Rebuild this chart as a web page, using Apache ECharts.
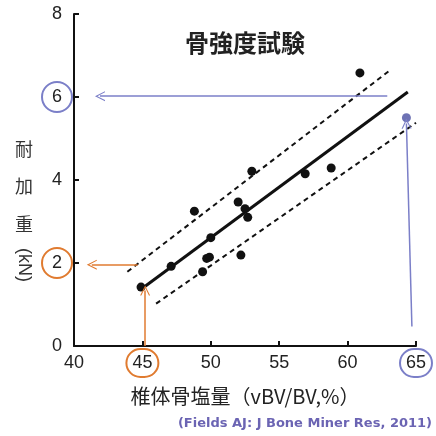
<!DOCTYPE html>
<html>
<head>
<meta charset="utf-8">
<script src="https://cdn.jsdelivr.net/npm/echarts@6/dist/echarts.min.js"></script>
<style>
html, body { margin: 0; padding: 0; background: #fff; }
#main { width: 436px; height: 436px; }
</style>
</head>
<body>
<div id="main"></div>
<script>
// 目盛り
var xTicks = [40, 45, 50, 55, 60, 65];
var yTicks = [0, 2, 4, 6, 8];
// 測定点 (椎体骨塩量 vs 耐加重)
var vbv = [44.9, 47.1, 48.8, 49.4, 49.7, 49.9, 50.0, 52.0, 52.2, 52.5, 52.7, 53.0, 56.9, 58.8, 60.9];
var load = [1.42, 1.92, 3.25, 1.79, 2.11, 2.14, 2.61, 3.47, 2.19, 3.31, 3.10, 4.21, 4.15, 4.29, 6.58];
// 回帰直線と信頼区間
var fitLine = [[45.2, 1.44], [64.4, 6.12]];
var upperBand = [[43.9, 1.79], [63.0, 6.62]];
var lowerBand = [[46.0, 1.02], [65.0, 5.38]];
// 予測点
var targetPoint = [[64.3, 5.5]];
// 矢印
var orangeUp = [[45.2, 0], [45.2, 1.34]];
var orangeLeft = [[44.65, 1.96], [41.3, 1.96]];
var blueUp = [[64.7, 0.47], [64.3, 5.36]];
var blueLeft = [[62.9, 6.02], [41.9, 6.02]];

var ORANGE = '#e07b30';
var BLUE = '#7b7fc8';
// 開いた矢じり (上向き、10x10 の箱)
var chevron = 'path://M0,7 L5,0 L10,7 L8.8,7 L5,1.7 L1.2,7 Z';

function pts(xs, ys) {
    var out = [];
    for (var i = 0; i < xs.length; i++) out.push([xs[i], ys[i]]);
    return out;
}

function arrow(seg) {
    return [{ coord: seg[0] }, { coord: seg[1] }];
}

var myChart = echarts.init(document.getElementById('main'));

var option = {
    animation: false,
    backgroundColor: '#fff',
    grid: { left: 74, right: 17, top: 14, bottom: 90 },
    xAxis: {
        type: 'value',
        min: 40, max: 65, interval: 5,
        name: '椎体骨塩量（vBV/BV,%）',
        nameLocation: 'middle',
        nameGap: 40,
        nameTextStyle: { fontFamily: 'Noto Sans CJK JP', fontSize: 20, color: '#222' },
        axisLine: { lineStyle: { color: '#111', width: 2 } },
        axisTick: { inside: true, length: 5, lineStyle: { color: '#111', width: 2 } },
        splitLine: { show: false },
        axisLabel: {
            margin: 3,
            formatter: function (v) {
                if (v === 45) return '{o|45}';
                if (v === 65) return '{b|65}';
                return '{n|' + v + '}';
            },
            rich: {
                n: { width: 32, height: 28, align: 'center', fontSize: 18, fontFamily: 'Liberation Sans', color: '#222' },
                o: { width: 32, height: 28, align: 'center', fontSize: 18, fontFamily: 'Liberation Sans', color: '#222',
                     borderColor: ORANGE, borderWidth: 2, borderRadius: 16 },
                b: { width: 32, height: 28, align: 'center', fontSize: 18, fontFamily: 'Liberation Sans', color: '#222',
                     borderColor: BLUE, borderWidth: 2, borderRadius: 16 }
            }
        }
    },
    yAxis: {
        type: 'value',
        min: 0, max: 8, interval: 2,
        axisLine: { show: true, lineStyle: { color: '#111', width: 2 } },
        axisTick: { show: true, inside: true, length: 5, lineStyle: { color: '#111', width: 2 } },
        splitLine: { show: false },
        axisLabel: {
            margin: 2,
            formatter: function (v) {
                if (v === 2) return '{o|2}';
                if (v === 6) return '{b|6}';
                return '{n|' + v + '}';
            },
            rich: {
                n: { width: 30, height: 30, align: 'center', fontSize: 18, fontFamily: 'Liberation Sans', color: '#222' },
                o: { width: 30, height: 30, align: 'center', fontSize: 18, fontFamily: 'Liberation Sans', color: '#222',
                     borderColor: ORANGE, borderWidth: 2, borderRadius: 16 },
                b: { width: 30, height: 30, align: 'center', fontSize: 18, fontFamily: 'Liberation Sans', color: '#222',
                     borderColor: BLUE, borderWidth: 2, borderRadius: 16 }
            }
        }
    },
    graphic: [
        { type: 'text', x: 245, y: 43,
          style: { text: '骨強度試験', x: 0, y: 0, align: 'center', verticalAlign: 'middle',
                   font: 'bold 24px "Noto Sans CJK JP"', fill: '#222' } },
        { type: 'text', x: 24, y: 130,
          style: { text: '耐\n加\n重', x: 0, y: 0, align: 'center', verticalAlign: 'top',
                   font: '18px "Noto Sans CJK JP"', lineHeight: 37.5, fill: '#333' } },
        { type: 'text', x: 24, y: 265, rotation: -Math.PI / 2,
          style: { text: '(kN)', x: 0, y: 0, align: 'center', verticalAlign: 'middle',
                   font: '18px "Liberation Sans"', fill: '#333' } },
        { type: 'text', x: 432, y: 424,
          style: { text: '(Fields AJ: J Bone Miner Res, 2011)', x: 0, y: 0, align: 'right', verticalAlign: 'middle',
                   font: 'bold 13px "DejaVu Sans"', fill: '#6b64b3' } }
    ],
    series: [
        {
            type: 'line', data: upperBand, showSymbol: false, silent: true,
            lineStyle: { color: '#111', width: 2, type: [5, 4] }
        },
        {
            type: 'line', data: lowerBand, showSymbol: false, silent: true,
            lineStyle: { color: '#111', width: 2, type: [5, 4] }
        },
        {
            type: 'line', data: fitLine, showSymbol: false, silent: true,
            lineStyle: { color: '#111', width: 3 }
        },
        {
            type: 'scatter', data: pts(vbv, load), symbolSize: 9,
            itemStyle: { color: '#111', opacity: 1 }
        },
        {
            type: 'scatter', data: targetPoint, symbolSize: 9,
            itemStyle: { color: '#6e72b4', opacity: 1 }
        },
        {
            type: 'line', data: [], silent: true,
            markLine: {
                silent: true,
                symbol: ['none', chevron],
                symbolSize: 10,
                label: { show: false },
                lineStyle: { color: ORANGE, width: 1.5, type: 'solid' },
                data: [arrow(orangeUp), arrow(orangeLeft)]
            }
        },
        {
            type: 'line', data: [], silent: true,
            markLine: {
                silent: true,
                symbol: ['none', chevron],
                symbolSize: 10,
                label: { show: false },
                lineStyle: { color: BLUE, width: 1.5, type: 'solid' },
                data: [arrow(blueUp), arrow(blueLeft)]
            }
        }
    ]
};

myChart.setOption(option);
window.onresize = function () {
    myChart.resize();
};
</script>
</body>
</html>
